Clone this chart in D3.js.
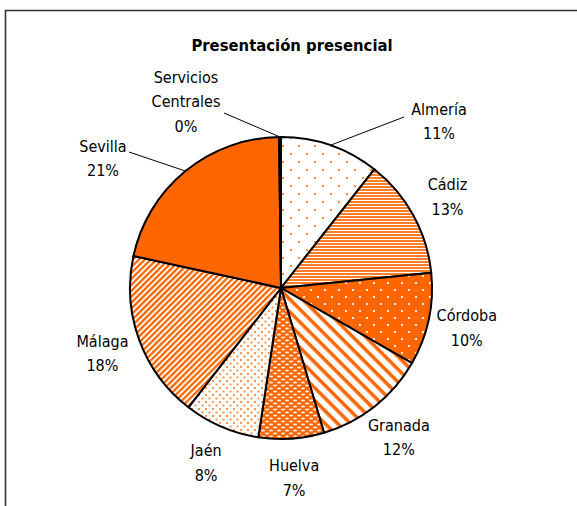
<!DOCTYPE html>
<html><head><meta charset="utf-8">
<script src="https://cdn.jsdelivr.net/npm/d3@7"></script>
<style>
html,body{margin:0;padding:0;background:#fff;}
svg{display:block;}
text{font-family:"DejaVu Sans Condensed","Liberation Sans Narrow","Arial Narrow",sans-serif;fill:#000;}
</style></head>
<body>
<script>
const categories = ["Almería","Cádiz","Córdoba","Granada","Huelva","Jaén","Málaga","Sevilla","Servicios Centrales"];
const values = [10.6, 12.8, 9.9, 12.1, 7.0, 8.1, 17.9, 21.4, 0.2];
const labelLines = [["Almería"],["Cádiz"],["Córdoba"],["Granada"],["Huelva"],["Jaén"],["Málaga"],["Sevilla"],["Servicios","Centrales"]];
const title = "Presentación presencial";

const W = 577, H = 506;
const cx = 281, cy = 288, R = 151;
const orange = "#ff6600";

const svg = d3.select("body").append("svg").attr("width", W).attr("height", H);
const defs = svg.append("defs");

function pat(id, w, h, bg) {
  const p = defs.append("pattern").attr("id", id).attr("patternUnits", "userSpaceOnUse")
    .attr("width", w).attr("height", h);
  p.append("rect").attr("width", w).attr("height", h).attr("fill", bg);
  return p;
}
let p = pat("pAlm", 16, 16, "#fff");
p.append("rect").attr("x", 1).attr("y", 1).attr("width", 2).attr("height", 2).attr("fill", orange).attr("opacity", 0.75);
p.append("rect").attr("x", 9).attr("y", 9).attr("width", 2).attr("height", 2).attr("fill", orange).attr("opacity", 0.75);
p = pat("pCad", 4, 3, "#fff");
p.append("rect").attr("x", 0).attr("y", 0).attr("width", 4).attr("height", 2).attr("fill", orange).attr("opacity", 0.85);
p = pat("pCor", 14, 14, orange);
p.append("rect").attr("x", 1).attr("y", 1).attr("width", 2).attr("height", 2).attr("fill", "#fff").attr("opacity", 0.9);
p.append("rect").attr("x", 8).attr("y", 8).attr("width", 2).attr("height", 2).attr("fill", "#fff").attr("opacity", 0.9);
p = pat("pGra", 9, 9, "#fff").attr("patternTransform", "rotate(45)");
p.append("rect").attr("x", 0).attr("y", 0).attr("width", 9).attr("height", 3.5).attr("fill", orange);
p = pat("pHue", 8, 6, orange);
p.append("ellipse").attr("cx", 2).attr("cy", 1.5).attr("rx", 2).attr("ry", 0.9).attr("fill", "#fff").attr("opacity", 0.9);
p.append("ellipse").attr("cx", 6).attr("cy", 4.5).attr("rx", 2).attr("ry", 0.9).attr("fill", "#fff").attr("opacity", 0.9);
p = pat("pJae", 7, 7, "#fff");
p.append("rect").attr("x", 1).attr("y", 1).attr("width", 2).attr("height", 2).attr("fill", orange).attr("opacity", 0.7);
p.append("rect").attr("x", 4.5).attr("y", 4.5).attr("width", 2).attr("height", 2).attr("fill", orange).attr("opacity", 0.7);
p = pat("pMal", 4.2, 4.2, "#fff").attr("patternTransform", "rotate(-45)");
p.append("rect").attr("x", 0).attr("y", 0).attr("width", 4.2).attr("height", 2.3).attr("fill", orange);

const fills = ["url(#pAlm)","url(#pCad)","url(#pCor)","url(#pGra)","url(#pHue)","url(#pJae)","url(#pMal)", orange, orange];

svg.append("path").attr("d", `M5.5,506 L5.5,10.5 L580,10.5`).attr("fill", "none")
  .attr("stroke", "#333").attr("stroke-width", 1.6);

svg.append("text").attr("x", 292).attr("y", 51).attr("text-anchor", "middle")
  .attr("font-size", 16.5).attr("font-weight", "bold").text(title);

const data = categories.map((c, i) => ({ name: c, value: values[i], i }));
const pie = d3.pie().value(d => d.value).sort(null).startAngle(0).endAngle(2 * Math.PI);
const arcs = pie(data);
const arc = d3.arc().innerRadius(0).outerRadius(R);

const g = svg.append("g").attr("transform", `translate(${cx},${cy})`);
g.selectAll("path.slice").data(arcs).join("path").attr("class", "slice")
  .attr("d", arc).attr("fill", d => fills[d.data.i])
  .attr("stroke", "#000").attr("stroke-width", 2).attr("stroke-linejoin", "round");

const labelArc = d3.arc().innerRadius(190).outerRadius(190);
const manual = {
  0: { x: 158, y: -167, lx: 123, ly: -171 },
  7: { x: -178, y: -130, lx: -152, ly: -136 },
  8: { x: -95, y: -187, lx: -57, ly: -175 }
};
const lineH = 24.5;
arcs.forEach(d => {
  const i = d.data.i;
  const lines = labelLines[i].concat([Math.round(d.data.value) + "%"]);
  let x, y;
  if (manual[i]) { x = manual[i].x; y = manual[i].y; }
  else { [x, y] = labelArc.centroid(d); }
  const n = lines.length;
  const t = g.append("text").attr("text-anchor", "middle").attr("font-size", 16);
  lines.forEach((ln, k) => {
    t.append("tspan").attr("x", x).attr("y", y + (k - (n - 1) / 2) * lineH + 6).text(ln);
  });
  if (manual[i]) {
    const mid = (d.startAngle + d.endAngle) / 2;
    const ex = R * Math.sin(mid), ey = -R * Math.cos(mid);
    g.append("line").attr("x1", manual[i].lx).attr("y1", manual[i].ly)
      .attr("x2", ex).attr("y2", ey).attr("stroke", "#000").attr("stroke-width", 1);
  }
});
</script>
</body></html>
